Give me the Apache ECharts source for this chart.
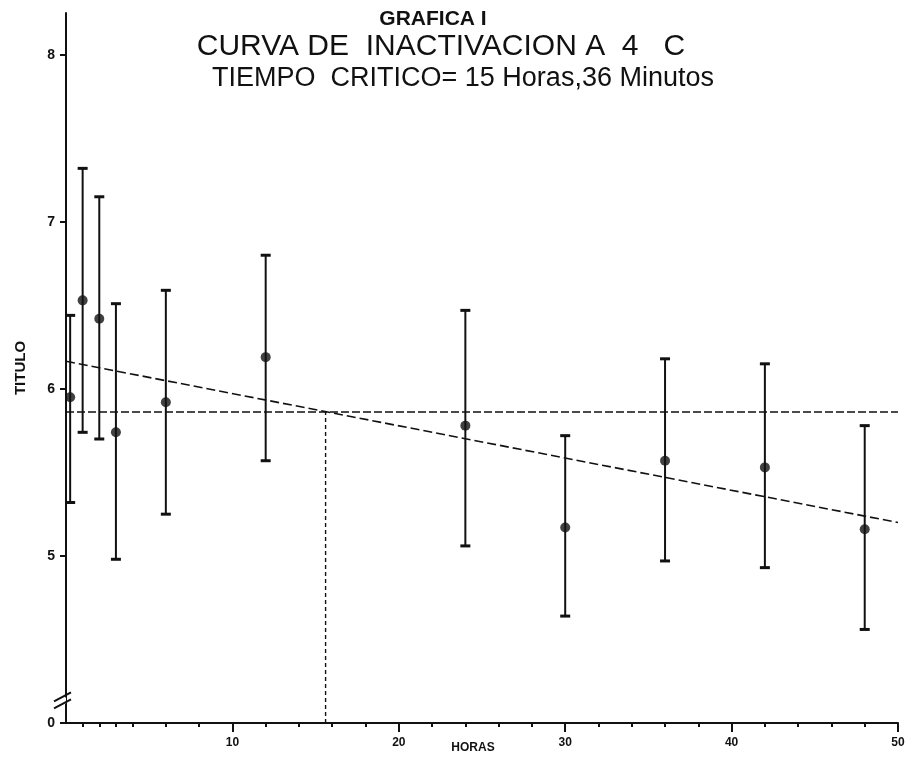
<!DOCTYPE html>
<html><head><meta charset="utf-8">
<script src="https://cdn.jsdelivr.net/npm/echarts@6/dist/echarts.min.js"></script>
<style>html,body{margin:0;padding:0;background:#fff;} #c{width:912px;height:764px;}</style>
</head><body><div id="c"></div>
<script>
// Data
const hours = [0.25, 1, 2, 3, 6, 12, 24, 30, 36, 42, 48];
const means = [5.95, 6.53, 6.42, 5.74, 5.92, 6.19, 5.78, 5.17, 5.57, 5.53, 5.16];
const highs = [6.44, 7.32, 7.15, 6.51, 6.59, 6.80, 6.47, 5.72, 6.18, 6.15, 5.78];
const lows  = [5.32, 5.74, 5.70, 4.98, 5.25, 5.57, 5.06, 4.64, 4.97, 4.93, 4.56];
const regressionLine = [[0, 6.165], [50, 5.20]];
const criticalTiter = 5.862;
const criticalHours = 15.6;
const yTickValues = [4, 5, 6, 7, 8];
const yTickLabels = ['0', '5', '6', '7', '8'];
const xMinorTicks = [1, 2, 3, 4, 6, 8, 12, 14, 16, 18, 22, 24, 26, 28, 32, 34, 36, 38, 42, 44, 46, 48];
const xMajorTicks = [10, 20, 30, 40, 50];
const titleLines = ['GRAFICA I', 'CURVA DE  INACTIVACION A  4   C', 'TIEMPO  CRITICO= 15 Horas,36 Minutos'];

const INK = '#111';
const FONT = '"Liberation Sans", Arial, sans-serif';

const chart = echarts.init(document.getElementById('c'), null, {renderer: 'canvas'});

const option = {
  backgroundColor: '#fff',
  animation: false,
  grid: {left: 66, right: 14, top: 13, bottom: 41, containLabel: false, outerBoundsMode: 'none'},
  xAxis: [{
    type: 'value', min: 0, max: 50,
    axisLine: {show: true, onZero: false, lineStyle: {color: INK, width: 2}},
    axisTick: {show: true, customValues: xMinorTicks, length: 4, lineStyle: {color: INK, width: 2}},
    axisLabel: {customValues: xMajorTicks, margin: 14, fontSize: 12, fontWeight: 'bold', color: INK, fontFamily: FONT},
    splitLine: {show: false},
    name: 'HORAS', nameLocation: 'middle', nameGap: 19, nameMoveOverlap: false,
    nameTextStyle: {fontSize: 12, fontWeight: 'bold', color: INK, fontFamily: FONT, padding: [0, 18, 0, 0]}
  }, {
    type: 'value', min: 0, max: 50, position: 'bottom',
    axisLine: {show: false},
    axisTick: {show: true, customValues: xMajorTicks, length: 9, lineStyle: {color: INK, width: 2}},
    axisLabel: {show: false},
    splitLine: {show: false}
  }],
  yAxis: {
    type: 'value', min: 4, max: 8.25,
    axisLine: {show: true, onZero: false, lineStyle: {color: INK, width: 2}},
    axisTick: {show: true, customValues: yTickValues, length: 6, lineStyle: {color: INK, width: 2}},
    axisLabel: {customValues: yTickValues, margin: 11, fontSize: 14, fontWeight: 'bold', color: INK, fontFamily: FONT,
      formatter: v => yTickLabels[yTickValues.indexOf(v)]},
    splitLine: {show: false},
    name: 'TITULO', nameLocation: 'middle', nameGap: 38, nameMoveOverlap: false,
    nameTextStyle: {fontSize: 15, fontWeight: 'bold', color: INK, fontFamily: FONT}
  },
  graphic: titleLines.map((t, i) => ({
    type: 'text',
    x: [433, 441, 463][i], y: [19, 47, 79][i],
    style: {text: t, align: 'center', verticalAlign: 'middle',
      fontSize: [21, 30, 27][i], fontWeight: i === 0 ? 'bold' : 'normal', fontFamily: FONT, fill: INK}
  })),
  series: [
    {
      type: 'custom', name: 'errorbars',
      data: hours.map((h, i) => [h, lows[i], highs[i]]),
      encode: {x: 0, y: [1, 2]},
      renderItem: (params, api) => {
        const lo = api.coord([api.value(0), api.value(1)]);
        const hi = api.coord([api.value(0), api.value(2)]);
        const w = 5;
        const st = {stroke: INK, lineWidth: 2};
        return {type: 'group', children: [
          {type: 'line', shape: {x1: lo[0], y1: lo[1], x2: hi[0], y2: hi[1]}, style: st},
          {type: 'line', shape: {x1: hi[0] - w, y1: hi[1], x2: hi[0] + w, y2: hi[1]}, style: {stroke: INK, lineWidth: 3}},
          {type: 'line', shape: {x1: lo[0] - w, y1: lo[1], x2: lo[0] + w, y2: lo[1]}, style: {stroke: INK, lineWidth: 3}}
        ]};
      },
      silent: true, z: 3
    },
    {
      type: 'scatter', name: 'means',
      data: hours.map((h, i) => [h, means[i]]),
      symbol: 'circle', symbolSize: 10,
      itemStyle: {color: INK}, silent: true, z: 4
    },
    {
      type: 'line', name: 'regression', data: regressionLine,
      symbol: 'none', silent: true,
      lineStyle: {color: INK, width: 1.6, type: [9, 4]}
    },
    {
      type: 'line', name: 'critical titer', data: [[0, criticalTiter], [50, criticalTiter]],
      symbol: 'none', silent: true,
      lineStyle: {color: INK, width: 1.6, type: [8, 3]}
    },
    {
      type: 'line', name: 'critical time', data: [[criticalHours, 4], [criticalHours, criticalTiter]],
      symbol: 'none', silent: true,
      lineStyle: {color: INK, width: 1.4, type: [4, 3]}
    },
    {
      type: 'custom', name: 'axis break',
      data: [[0, 4.135]],
      renderItem: (params, api) => {
        const c = api.coord([api.value(0), api.value(1)]);
        const cx = c[0] - 3, cy = c[1];
        return {type: 'group', children: [
          {type: 'rect', shape: {x: cx - 3, y: cy - 3, width: 6, height: 6}, style: {fill: '#fff'}},
          {type: 'line', shape: {x1: cx - 9, y1: cy + 1, x2: cx + 8, y2: cy - 8}, style: {stroke: INK, lineWidth: 2}},
          {type: 'line', shape: {x1: cx - 9, y1: cy + 8, x2: cx + 8, y2: cy - 1}, style: {stroke: INK, lineWidth: 2}}
        ]};
      },
      silent: true, clip: false, z: 5
    }
  ]
};
chart.setOption(option);
</script>
</body></html>
